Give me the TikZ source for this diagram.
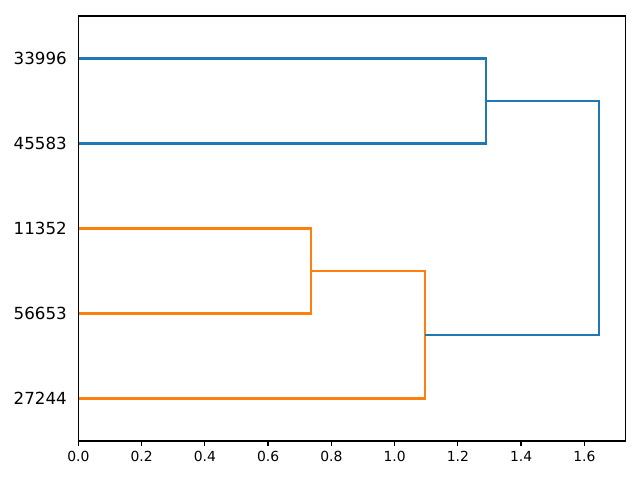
\documentclass[tikz,border=0pt]{standalone}
\usepackage{fontspec}
\setmainfont{DejaVu Sans}
\definecolor{mplblue}{HTML}{1F77B4}
\definecolor{mplorange}{HTML}{FF7F0E}
\begin{document}
\begin{tikzpicture}[
    x=0.72pt,
    y=-0.72pt,
    link/.style={line width=1.5pt},
    frame/.style={line width=0.8pt, black},
    leaflabel/.style={anchor=east, inner sep=0pt, font=\fontsize{12}{14}\selectfont},
    ticklabel/.style={anchor=north, inner sep=0pt, font=\fontsize{10}{12}\selectfont}
]
\useasboundingbox (0,0) rectangle (640,480);

% leaves on the left axis
\foreach \lab/\y [count=\i] in {33996/58.5,45583/143.5,11352/228.5,56653/313.5,27244/398.5}{
    \node[leaflabel] (name\i) at (67,\y) {\lab};
    \coordinate (leaf\i) at (78.3,\y);
}

% merge points
\coordinate (m1) at (486.0,101.0);
\coordinate (m2) at (311.0,271.0);
\coordinate (m3) at (425.0,334.75);
\coordinate (m4) at (598.8,217.9);

% links
\draw[link,mplblue] (leaf1) -| (m1) |- (leaf2);
\draw[link,mplorange] (leaf3) -| (m2) |- (leaf4);
\draw[link,mplorange] (m2) -| (m3) |- (leaf5);
\draw[link,mplblue] (m1) -| (m4) |- (m3);

% axes frame
\draw[frame] (78.3,16) rectangle (625.7,441);

% x ticks
\foreach \t in {0.0,0.2,0.4,0.6,0.8,1.0,1.2,1.4,1.6}{
    \pgfmathsetmacro\px{78.3+316.25*\t}
    \draw[frame] (\px,441) -- (\px,446);
    \node[ticklabel] (tick\t) at (\px,451) {\t};
}
\end{tikzpicture}
\end{document}
